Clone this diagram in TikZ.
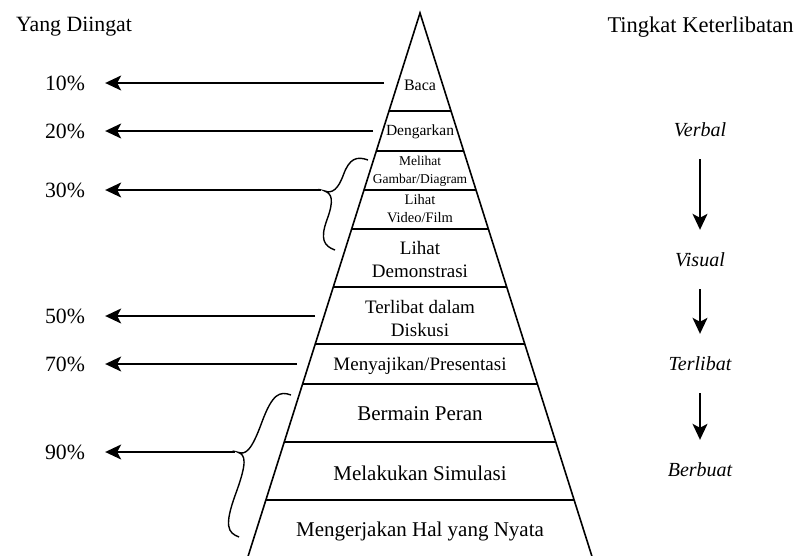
\documentclass[tikz,border=0pt]{standalone}
\usepackage{fontspec}
\setmainfont{Liberation Serif}
\usepackage{tikz}
\usetikzlibrary{arrows.meta}

\tikzset{
	pct/.style={font=\fontsize{21.8}{26}\selectfont, inner sep=0pt},
	lvl/.style={align=center, inner sep=0pt, font=\fontsize{19}{23}\selectfont},
	lvlbig/.style={align=center, inner sep=0pt, font=\fontsize{21}{25}\selectfont},
	tier/.style={font=\fontsize{20}{24}\selectfont\itshape, inner sep=0pt, text height=14pt, text depth=4pt},
	pointer/.style={-{Stealth[length=16pt,width=15pt,inset=4pt]}, line width=1.5pt},
	pics/curly/.style 2 args={code={
		\draw [line width=1.4pt] (0,0) .. controls (0,12) and (5,18) .. ({#2/2},18)
			.. controls ({#2-6},18) and (#2,22) .. (#2,30)
			.. controls (#2,22) and ({#2+6},18) .. ({(#1+#2)/2},18)
			.. controls ({#1-5},18) and (#1,12) .. (#1,0);
	}}
}

\begin{document}
\begin{tikzpicture}[x=1pt,y=-1pt]
		\def\lw{1.6pt}
		\clip (0,0) rectangle (798,555);
		% pyramid
		\draw [line width=\lw] (245.3,565) -- (420,13) -- (594.7,565);
		\foreach \y in {111,151,190,229,287,344,384,442,500}
			\draw [line width=\lw] ({420-0.3165*(\y-13)},\y) -- ({420+0.3165*(\y-13)},\y);
		\node [lvl, font=\fontsize{16}{19}\selectfont] (baca) at (420,85) {Baca};
		\node [lvl, font=\fontsize{15.5}{18}\selectfont] (dengar) at (420,132) {Dengarkan};
		\node [lvl, font=\fontsize{13.5}{18}\selectfont] (gambar) at (420,171) {Melihat\\Gambar/Diagram};
		\node [lvl, font=\fontsize{14.5}{18}\selectfont] (video) at (420,209) {Lihat\\Video/Film};
		\node [lvl] (demo) at (420,259) {Lihat\\Demonstrasi};
		\node [lvl] (diskusi) at (420,318) {Terlibat dalam\\Diskusi};
		\node [lvl] (saji) at (420,366) {Menyajikan/Presentasi};
		\node [lvlbig] (peran) at (420,414) {Bermain Peran};
		\node [lvlbig] (simulasi) at (420,473) {Melakukan Simulasi};
		\node [lvlbig] (nyata) at (420,531) {Mengerjakan Hal yang Nyata};
		% left side
		\node [pct] (ingat) at (74,27) {Yang Diingat};
		\node [pct] (p10) at (65,83) {10\%};
		\node [pct] (p20) at (65,131) {20\%};
		\node [pct] (p30) at (65,190) {30\%};
		\node [pct] (p50) at (65,316) {50\%};
		\node [pct] (p70) at (65,364) {70\%};
		\node [pct] (p90) at (65,452) {90\%};
		\coordinate (s10) at (384,83);
		\coordinate (s20) at (373,131);
		\coordinate (s50) at (315,316);
		\coordinate (s70) at (297,364);
		\coordinate (b30) at (321,190);
		\coordinate (b90) at (235,452);
		\pic [shift={(368,160)}, rotate=-110.1] {curly={95.9}{44}};
		\pic [shift={(291,395)}, rotate=-110.1] {curly={151.2}{72}};
		\draw [pointer, shorten >=20pt] (s10) -- (p10);
		\draw [pointer, shorten >=20pt] (s20) -- (p20);
		\draw [pointer, shorten >=20pt] (b30) -- (p30);
		\draw [pointer, shorten >=20pt] (s50) -- (p50);
		\draw [pointer, shorten >=20pt] (s70) -- (p70);
		\draw [pointer, shorten >=20pt] (b90) -- (p90);
		% right side
		\node [pct, font=\fontsize{22.5}{26}\selectfont] (libat) at (700.5,27) {Tingkat Keterlibatan};
		\node [tier] (verbal) at (700,131) {Verbal};
		\node [tier] (visual) at (700,261) {Visual};
		\node [tier] (terlibat) at (700,365) {Terlibat};
		\node [tier] (berbuat) at (700,471) {Berbuat};
		\draw [pointer, shorten <=19pt, shorten >=22pt] (verbal) -- (visual);
		\draw [pointer, shorten <=19pt, shorten >=22pt] (visual) -- (terlibat);
		\draw [pointer, shorten <=19pt, shorten >=22pt] (terlibat) -- (berbuat);
	\end{tikzpicture}
\end{document}
